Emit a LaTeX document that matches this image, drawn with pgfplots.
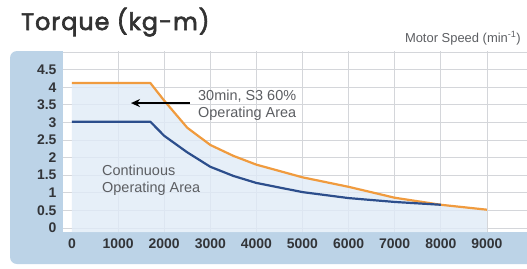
\documentclass[border=0pt]{standalone}
\usepackage{pgfplots}
\pgfplotsset{compat=1.18}
\usepackage{fontspec}
\setmainfont{Liberation Sans}
\newfontfamily\titlefont{Poppins}[FakeBold=2.6, LetterSpace=4]
\usetikzlibrary{arrows.meta}
\definecolor{panel}{RGB}{188,211,231}
\definecolor{areablue}{RGB}{224,235,247}
\definecolor{gridc}{RGB}{212,214,218}
\definecolor{orangec}{RGB}{240,155,62}
\definecolor{bluec}{RGB}{44,78,140}
\definecolor{ticklab}{RGB}{50,52,56}
\definecolor{anngray}{RGB}{92,94,98}
\definecolor{titlegray}{RGB}{50,50,50}
\begin{document}
\begin{tikzpicture}[x=1bp,y=1bp]
\path[use as bounding box] (0,0) rectangle (527,268);
\fill[panel, rounded corners=7bp] (10,4) rectangle (545,217);
\begin{axis}[
  at={(63bp,36bp)}, anchor=south west, scale only axis,
  width=464bp, height=181bp,
  xmin=-195, xmax=9870, ymin=-0.114, ymax=5.03,
  axis line style={draw=none},
  axis background/.style={fill=white},
  xtick={0,1000,...,9000},
  ytick={0,0.5,...,4.5},
  minor xtick={1000,2000,...,9000},
  minor ytick={5},
  xminorgrids, ymajorgrids, yminorgrids,
  major grid style={draw=gridc, line width=0.7bp},
  minor grid style={draw=gridc, line width=0.7bp},
  major tick length=0, minor tick length=0,
  scaled ticks=false,
  /pgf/number format/1000 sep={},
  /pgf/number format/assume math mode=true,
  tick label style={font=\fontsize{14}{14}\selectfont\bfseries, text=ticklab},
  yticklabel style={xshift=-3bp},
  xticklabel style={yshift=-3.5bp},
  clip=false,
]
\addplot[fill=areablue, fill opacity=0.8, draw=none] coordinates {
  (0,4.12) (1700,4.12) (2000,3.62) (2500,2.85) (3000,2.36) (3500,2.05)
  (4000,1.80) (5000,1.44) (6000,1.17) (7000,0.86) (8000,0.66) (9000,0.52)
  (9000,-0.114) (0,-0.114)} -- cycle;
\addplot[orangec, line width=2.2bp, line join=round] coordinates {
  (0,4.12) (1700,4.12) (2000,3.62) (2500,2.85) (3000,2.36) (3500,2.05)
  (4000,1.80) (5000,1.44) (6000,1.17) (7000,0.86) (8000,0.66) (9000,0.52)};
\addplot[bluec, line width=2.2bp, line join=round] coordinates {
  (0,3.02) (1700,3.02) (2000,2.62) (2500,2.15) (3000,1.74) (3500,1.48)
  (4000,1.28) (5000,1.02) (6000,0.85) (7000,0.74) (8000,0.66)};
\draw[black, line width=1.6bp, -{Stealth[length=9bp,width=8bp]}]
  (axis cs:2560,3.55) -- (axis cs:1280,3.55);
\end{axis}
\node[anchor=base west, inner sep=0, font=\titlefont\fontsize{24}{24}\selectfont, text=titlegray] at (21,238) {Torque (kg-m)};
\node[anchor=base east, inner sep=0, font=\fontsize{13}{13}\selectfont, text=anngray] at (521,226) {Motor Speed (min\textsuperscript{-1})};
\node[anchor=base west, inner sep=0, font=\fontsize{14.5}{15}\selectfont, text=anngray] at (198,168) {30min, S3 60\%};
\node[anchor=base west, inner sep=0, font=\fontsize{14.5}{15}\selectfont, text=anngray] at (198,151) {Operating Area};
\node[anchor=base west, inner sep=0, font=\fontsize{14.5}{15}\selectfont, text=anngray] at (102,93) {Continuous};
\node[anchor=base west, inner sep=0, font=\fontsize{14.5}{15}\selectfont, text=anngray] at (102,76) {Operating Area};
\end{tikzpicture}
\end{document}
